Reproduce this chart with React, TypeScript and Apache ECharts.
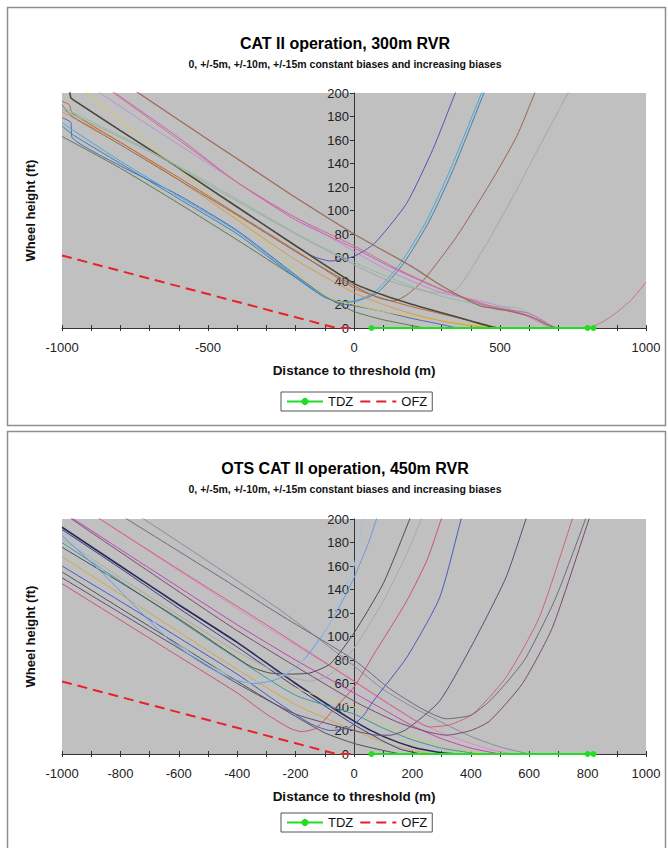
import React, { useEffect, useRef } from "react";
import * as echarts from "echarts";

// ---------- Chart 1: CAT II operation, 300m RVR  (x: distance to threshold m, y: wheel height ft)
const c1Brown = [[-760,204],[-738,200],[-600,177],[-400,144],[-200,111],[0,80],[100,66],[200,52],[300,36],[430,19],[520,15],[600,10],[660,3],[690,0]];
const c1Violet = [[-830,202],[-818,200],[-600,162],[-412,126],[-200,92],[0,68],[125,52],[295,33],[466,18],[591,13],[650,6],[682,0]];
const c1Green = [[-1000,188],[-732,155],[-500,124],[-300,95],[-150,74],[0,56],[150,40],[300,27],[455,19],[560,17],[620,10],[660,2],[680,0]];
const c1Dark = [[-975,205],[-970,196],[-960,194],[-800,168],[-600,136],[-400,103],[-200,70],[0,38],[100,28],[200,20],[300,13],[400,6],[470,1],[490,0]];
const c1Orange = [[-1000,193],[-975,190],[-965,183],[-800,158],[-600,128],[-400,97],[-200,66],[0,34],[100,25],[200,18],[300,12],[400,6],[480,1],[500,0]];
const c1Yellow = [[-925,202],[-915,200],[-700,156],[-500,115],[-300,72],[-150,38],[-70,24],[0,20],[100,14],[250,8],[400,3],[480,0]];
const c1Blue = [[-1000,179],[-970,175],[-965,162],[-800,138],[-600,113],[-400,83],[-200,45],[-100,27],[-50,21],[0,19],[100,14],[200,8],[300,3],[350,0]];
const c1Indigo = [[-960,194],[-800,168],[-600,136],[-400,103],[-200,70],[-140,61],[-80,57],[0,61],[70,72],[180,106],[270,152],[347,200],[360,208]];
const c1Cyan = [[-1000,175],[-960,168],[-800,142],[-600,112],[-400,82],[-200,44],[-100,27],[-40,22],[0,23],[68,30],[159,55],[250,92],[330,135],[437,200],[447,206]];
const c1Steel = [[-1000,172],[-960,164],[-800,140],[-600,110],[-400,80],[-200,43],[-100,26],[-30,22],[10,23],[80,30],[170,55],[260,92],[340,135],[445,200],[455,206]];
const c1Rust = [[-1000,190],[-965,180],[-800,156],[-600,126],[-400,96],[-200,65],[0,36],[80,26],[136,23],[180,28],[239,41],[352,78],[466,123],[557,163],[619,200],[630,207]];
const c1Gray = [[-1000,186],[-700,150],[-400,108],[-200,80],[0,54],[100,42],[200,34],[280,30],[352,33],[450,70],[545,112],[636,155],[733,200],[745,206]];
const c1Rose = [[-850,205],[-600,160],[-400,124],[-200,94],[0,70],[150,50],[300,33],[450,20],[580,12],[660,4],[700,0],[800,0],[850,5],[898,13],[950,24],[1000,39]];
const c1Moss = [[-1000,163],[-800,136],[-600,106],[-400,75],[-200,43],[-100,27],[0,14],[100,7],[200,2],[240,0]];
const c1Amber = [[-1000,184],[-800,158],[-600,126],[-400,92],[-200,58],[0,30],[100,20],[200,12],[300,6],[400,2],[470,0]];
const c1Lilac = [[-900,205],[-700,172],[-500,140],[-300,108],[-100,80],[0,65],[150,45],[300,30],[450,22],[560,14],[640,4],[670,0]];
const c1Ofz = [[-1000,61.7],[-60,0],[0,0]];
const c1Tdz = [[60,0],[800,0],[820,0]];
const c1XLabels = [-1000, -500, 0, 500, 1000];

// ---------- Chart 2: OTS CAT II operation, 450m RVR
const c2Gray = [[-790,202],[-778,200],[-500,157],[-250,118],[0,80],[120,56],[236,38],[316,30],[400,33],[464,45],[530,63],[589,82],[691,133],[793,200],[800,205]];
const c2Rose = [[-880,202],[-870,200],[-600,157],[-300,110],[0,62],[150,38],[259,23],[330,25],[407,34],[520,65],[634,116],[748,200],[755,205]];
const c2Plum = [[-975,202],[-967,200],[-700,155],[-400,105],[0,45],[150,27],[250,19],[316,16],[400,20],[464,28],[577,60],[680,108],[805,200],[812,205]];
const c2Sky1 = [[-1000,189],[-870,159],[-755,130],[-641,102],[-526,80],[-420,66],[-360,61],[-300,62],[-220,70],[-150,85],[-80,112],[-30,140],[0,160],[30,200],[35,206]];
const c2Sky2 = [[-1000,186],[-870,156],[-755,127],[-641,99],[-526,78],[-420,64],[-340,60],[-260,64],[-180,78],[-100,104],[-40,130],[0,150],[50,180],[77,200],[80,203]];
const c2Slate = [[-1000,176],[-800,146],[-600,115],[-450,90],[-350,74],[-290,69],[-220,68],[-150,69],[-80,77],[0,103],[100,145],[191,200],[196,204]];
const c2Silver = [[-1000,183],[-800,150],[-600,118],[-400,87],[-250,68],[-150,62],[-80,68],[0,90],[100,130],[180,170],[231,200],[236,204]];
const c2Red = [[-1000,145],[-800,114],[-600,83],[-400,52],[-300,34],[-220,22],[-180,19],[-130,22],[-69,38],[0,57],[66,84],[180,130],[250,165],[299,200],[305,205]];
const c2Blue = [[-1000,160],[-800,130],[-600,99],[-400,68],[-250,42],[-150,26],[-80,20],[-20,22],[30,32],[66,45],[180,82],[293,133],[367,200],[372,205]];
const c2Purple = [[-1000,150],[-800,120],[-600,90],[-400,60],[-200,34],[0,20],[80,16],[123,16],[180,21],[293,45],[407,94],[520,150],[589,200],[595,205]];
const c2Navy = [[-1000,193],[-800,160],[-600,127],[-400,95],[-200,60],[0,28],[100,15],[200,6],[300,1],[350,0]];
const c2Navy2 = [[-1000,191],[-800,158],[-600,124],[-400,91],[-200,57],[0,25],[100,11],[160,4],[230,0]];
const c2Magenta = [[-970,202],[-960,200],[-700,158],[-400,110],[-200,80],[0,52],[100,38],[200,24],[300,13],[400,5],[498,0]];
const c2Pink = [[-880,203],[-870,200],[-600,156],[-300,108],[0,62],[100,45],[200,30],[300,18],[400,9],[480,3],[545,0]];
const c2Teal = [[-1000,180],[-800,147],[-600,114],[-400,81],[-200,50],[0,34],[100,22],[200,12],[300,5],[430,0]];
const c2Gold = [[-1000,168],[-800,136],[-600,104],[-400,72],[-200,42],[0,20],[100,10],[200,3],[270,0]];
const c2Ash = [[-740,203],[-720,200],[-500,164],[-250,122],[0,75],[100,55],[200,40],[300,27],[400,15],[500,6],[600,0]];
const c2Khaki = [[-1000,183],[-800,150],[-600,117],[-400,84],[-200,56],[0,40],[100,25],[200,14],[300,7],[400,2],[460,0]];
const c2Charcoal = [[-1000,155],[-800,124],[-600,93],[-400,62],[-200,32],[-100,18],[0,9],[100,3],[160,0]];
const c2Ofz = [[-1000,61.7],[-60,0],[0,0]];
const c2Tdz = [[60,0],[800,0],[820,0]];
const c2XLabels = [-1000, -800, -600, -400, -200, 0, 200, 400, 600, 800, 1000];

const yTickLabels = [0, 20, 40, 60, 80, 100, 120, 140, 160, 180, 200];

// styles kept apart from data
type Run = { data: number[][]; color: string; width?: number };
const runs1: Run[] = [
  { data: c1Moss, color: "#5a7a50" },
  { data: c1Blue, color: "#4a68c0" },
  { data: c1Steel, color: "#3f7fb0" },
  { data: c1Cyan, color: "#48a8dc" },
  { data: c1Yellow, color: "#d8c850" },
  { data: c1Amber, color: "#d89a48" },
  { data: c1Orange, color: "#b8663a" },
  { data: c1Rust, color: "#9a6450" },
  { data: c1Indigo, color: "#5a4fb8" },
  { data: c1Dark, color: "#4a4a3a", width: 1.6 },
  { data: c1Green, color: "#88c0a0" },
  { data: c1Gray, color: "#a6a6a6" },
  { data: c1Lilac, color: "#b890d8" },
  { data: c1Violet, color: "#c860c8" },
  { data: c1Rose, color: "#d07080" },
  { data: c1Brown, color: "#9b6b5b", width: 1.3 },
];
const runs2: Run[] = [
  { data: c2Charcoal, color: "#505050" },
  { data: c2Gold, color: "#d0a848" },
  { data: c2Navy2, color: "#3c3c80" },
  { data: c2Navy, color: "#2a2a5a", width: 1.6 },
  { data: c2Teal, color: "#3a9a9a" },
  { data: c2Khaki, color: "#c8c880" },
  { data: c2Magenta, color: "#c840b0" },
  { data: c2Pink, color: "#e088c8" },
  { data: c2Ash, color: "#8a8a9a" },
  { data: c2Purple, color: "#604878" },
  { data: c2Blue, color: "#4858c0" },
  { data: c2Red, color: "#d05070" },
  { data: c2Silver, color: "#a8a8b0" },
  { data: c2Slate, color: "#4a4a5a" },
  { data: c2Sky2, color: "#6a9ad8" },
  { data: c2Sky1, color: "#9cc4e8" },
  { data: c2Plum, color: "#7a4a6a" },
  { data: c2Rose, color: "#d06080" },
  { data: c2Gray, color: "#6a6a80" },
];

const FONT = "'Liberation Sans', Arial, Helvetica, sans-serif";
const GRID_TOPS = [93, 519];
const PLOT_W = 584;
const PLOT_H = 235;

function runSeries(runs: Run[], g: number, prefix: string) {
  return runs.map((r, i) => ({
    type: "line",
    name: prefix + (i + 1),
    xAxisIndex: g * 2,
    yAxisIndex: g,
    data: r.data,
    showSymbol: false,
    symbol: "none",
    smooth: 0.2,
    silent: true,
    lineStyle: { color: r.color, width: r.width ?? 1 },
    itemStyle: { color: r.color },
    z: 2,
  }));
}

function zoneSeries(g: number, ofz: number[][], tdz: number[][]) {
  return [
    {
      type: "line",
      name: "TDZ",
      xAxisIndex: g * 2,
      yAxisIndex: g,
      data: tdz,
      symbol: "circle",
      symbolSize: 6,
      showSymbol: true,
      silent: true,
      lineStyle: { color: "#22dd22", width: 2 },
      itemStyle: { color: "#22dd22" },
      z: 5,
    },
    {
      type: "line",
      name: "OFZ",
      xAxisIndex: g * 2,
      yAxisIndex: g,
      data: ofz,
      symbol: "none",
      showSymbol: false,
      silent: true,
      lineStyle: { color: "#e8202a", width: 2, type: [10, 6] },
      itemStyle: { color: "#e8202a" },
      z: 4,
    },
  ];
}

function xAxes(g: number, labels: number[]) {
  const base = {
    type: "value",
    gridIndex: g,
    min: -1000,
    max: 1000,
    interval: 100,
    position: "bottom",
    splitLine: { show: false },
  };
  return [
    {
      ...base,
      name: "Distance to threshold (m)",
      nameLocation: "middle",
      nameGap: 35,
      nameTextStyle: { fontFamily: FONT, fontWeight: "bold", fontSize: 13.5, color: "#111" },
      axisLine: { show: true, onZero: false, lineStyle: { color: "#333", width: 1 } },
      axisTick: { show: true, inside: false, length: 3, lineStyle: { color: "#333" } },
      axisLabel: {
        margin: 13,
        fontFamily: FONT,
        fontSize: 13,
        color: "#222",
        formatter: (v: number) => (labels.includes(v) ? String(v) : ""),
      },
    },
    {
      ...base,
      axisLine: { show: false, onZero: false },
      axisTick: { show: true, inside: true, length: 3, lineStyle: { color: "#333" } },
      axisLabel: { show: false },
    },
  ];
}

function yAxis(g: number) {
  return {
    type: "value",
    gridIndex: g,
    min: 0,
    max: 200,
    interval: 20,
    position: "left",
    // the y axis crosses the x axis at 0 m (centre of the plot)
    offset: -PLOT_W / 2,
    splitLine: { show: false },
    axisLine: { show: true, onZero: false, lineStyle: { color: "#333", width: 1 } },
    axisTick: { show: true, inside: false, length: 4, lineStyle: { color: "#333" } },
    axisLabel: {
      margin: 5,
      fontFamily: FONT,
      fontSize: 13,
      color: "#222",
      formatter: (v: number) => (yTickLabels.includes(v) ? String(v) : ""),
    },
  };
}

function legendAt(top: number) {
  return {
    data: [
      { name: "TDZ" },
      { name: "OFZ", itemStyle: { color: "rgba(0,0,0,0)", borderWidth: 0, opacity: 0 } },
    ],
    left: 281,
    top,
    orient: "horizontal",
    itemWidth: 36,
    itemHeight: 9,
    itemGap: 6,
    selectedMode: false,
    backgroundColor: "#fff",
    borderColor: "#555",
    borderWidth: 1,
    borderRadius: 0,
    padding: [3, 5, 3, 5],
    textStyle: { fontFamily: FONT, fontSize: 13, color: "#111" },
  };
}

export default function App() {
  const ref = useRef<HTMLDivElement>(null);
  useEffect(() => {
    if (!ref.current) return;
    const chart = echarts.init(ref.current, null, { renderer: "svg" });
    const option: any = {
      animation: false,
      backgroundColor: "#fff",
      title: [
        {
          text: "CAT II operation, 300m RVR",
          subtext: "0, +/-5m, +/-10m, +/-15m constant biases and increasing biases",
          left: 340,
          top: 30,
          textAlign: "center",
          itemGap: 7,
          textStyle: { fontFamily: FONT, fontWeight: "bold", fontSize: 16, color: "#000" },
          subtextStyle: { fontFamily: FONT, fontWeight: "bold", fontSize: 10.5, color: "#111" },
        },
        {
          text: "OTS CAT II operation, 450m RVR",
          subtext: "0, +/-5m, +/-10m, +/-15m constant biases and increasing biases",
          left: 340,
          top: 455,
          textAlign: "center",
          itemGap: 7,
          textStyle: { fontFamily: FONT, fontWeight: "bold", fontSize: 16, color: "#000" },
          subtextStyle: { fontFamily: FONT, fontWeight: "bold", fontSize: 10.5, color: "#111" },
        },
      ],
      legend: [legendAt(392), legendAt(813)],
      grid: GRID_TOPS.map((t) => ({
        left: 62,
        top: t,
        width: PLOT_W,
        height: PLOT_H,
        show: true,
        backgroundColor: "#c0c0c0",
        borderWidth: 0,
      })),
      xAxis: [...xAxes(0, c1XLabels), ...xAxes(1, c2XLabels)],
      yAxis: [yAxis(0), yAxis(1)],
      series: [
        ...runSeries(runs1, 0, "Run A"),
        ...zoneSeries(0, c1Ofz, c1Tdz),
        ...runSeries(runs2, 1, "Run B"),
        ...zoneSeries(1, c2Ofz, c2Tdz),
      ],
      graphic: [
        {
          type: "rect",
          silent: true,
          z: -10,
          shape: { x: 7.5, y: 7.5, width: 658, height: 418 },
          style: { fill: "none", stroke: "#8e8e8e", lineWidth: 1.5 },
        },
        {
          type: "rect",
          silent: true,
          z: -10,
          shape: { x: 7.5, y: 431.5, width: 658, height: 440 },
          style: { fill: "none", stroke: "#8e8e8e", lineWidth: 1.5 },
        },
        ...GRID_TOPS.map((t) => ({
          type: "text",
          silent: true,
          x: 30,
          y: t + PLOT_H / 2,
          rotation: Math.PI / 2,
          style: {
            text: "Wheel height (ft)",
            fontFamily: FONT,
            fontWeight: "bold",
            fontSize: 13,
            fill: "#111",
            textAlign: "center",
            textVerticalAlign: "middle",
          },
        })),
      ],
    };
    chart.setOption(option);
    return () => chart.dispose();
  }, []);
  return (
    <div
      ref={ref}
      style={{ position: "absolute", left: 0, top: 0, width: 668, height: 848 }}
    />
  );
}
